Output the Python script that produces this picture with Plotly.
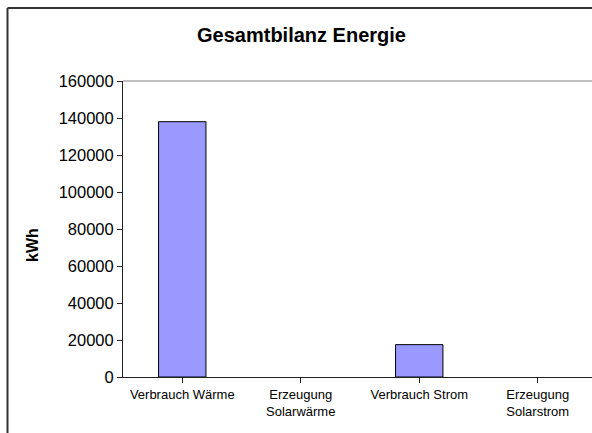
import plotly.graph_objects as go

categories = ["Verbrauch Wärme", "Erzeugung<br>Solarwärme", "Verbrauch Strom", "Erzeugung<br>Solarstrom"]
values = [138000, 0, 17500, 0]
y_ticks = [0, 20000, 40000, 60000, 80000, 100000, 120000, 140000, 160000]

W, H = 592, 433
L, T, B = 123, 81, 56
pw = W - L
ph = H - T - B

def px_x(p):
    return (p - L) / pw

def px_y(p):
    return (H - B - p) / ph

font = "Liberation Sans, Arial, sans-serif"

fig = go.Figure()
fig.add_trace(go.Bar(
    x=list(range(len(categories))), y=values, width=0.4,
    marker=dict(color="#9999FF",
                line=dict(color="#000000", width=[1 if v > 0 else 0 for v in values])),
))

cat_w = 118.5
frame_line = dict(color="#333333", width=2)
fig.update_layout(
    width=W, height=H,
    margin=dict(l=L, r=0, t=T, b=B),
    paper_bgcolor="white", plot_bgcolor="white",
    showlegend=False,
    font=dict(family=font, color="#000000"),
    title=dict(text="<b>Gesamtbilanz Energie</b>", x=301.5 / W, xanchor="center",
               y=1 - 35 / H, yanchor="middle", yref="container",
               font=dict(size=20, family=font, color="#000000")),
    xaxis=dict(
        range=[-0.5, -0.5 + pw / cat_w],
        tickmode="array", tickvals=list(range(len(categories))), ticktext=categories,
        showgrid=False, zeroline=False,
        showline=True, linecolor="#222222", linewidth=1,
        ticks="outside", tickson="boundaries", ticklen=5, tickcolor="#222222",
        tickfont=dict(size=13, family=font, color="#000000"),
    ),
    yaxis=dict(
        range=[0, 160000], tickmode="array", tickvals=y_ticks,
        ticktext=[str(v) for v in y_ticks],
        showgrid=False, zeroline=False,
        showline=True, linecolor="#222222", linewidth=1,
        ticks="outside", ticklen=5, tickcolor="#222222",
        tickfont=dict(size=16.5, family=font, color="#000000"),
    ),
    shapes=[
        dict(type="line", xref="paper", yref="paper", x0=0, x1=1, y0=1, y1=1,
             line=dict(color="#808080", width=1)),
        dict(type="line", xref="paper", yref="paper",
             x0=px_x(7.5), x1=px_x(7.5), y0=px_y(8), y1=px_y(H), line=frame_line),
        dict(type="line", xref="paper", yref="paper",
             x0=px_x(7.5), x1=px_x(W), y0=px_y(8), y1=px_y(8), line=frame_line),
    ],
    annotations=[
        dict(text="<b>kWh</b>", xref="paper", yref="paper", x=px_x(32), y=px_y(245),
             xanchor="center", yanchor="middle", textangle=-90, showarrow=False,
             font=dict(size=16, family=font, color="#000000")),
    ],
)

fig.write_html("out.html", config={"displayModeBar": False},
               post_script="document.body.style.margin='0';document.body.style.overflow='hidden';"
                           "document.documentElement.style.overflow='hidden';")
